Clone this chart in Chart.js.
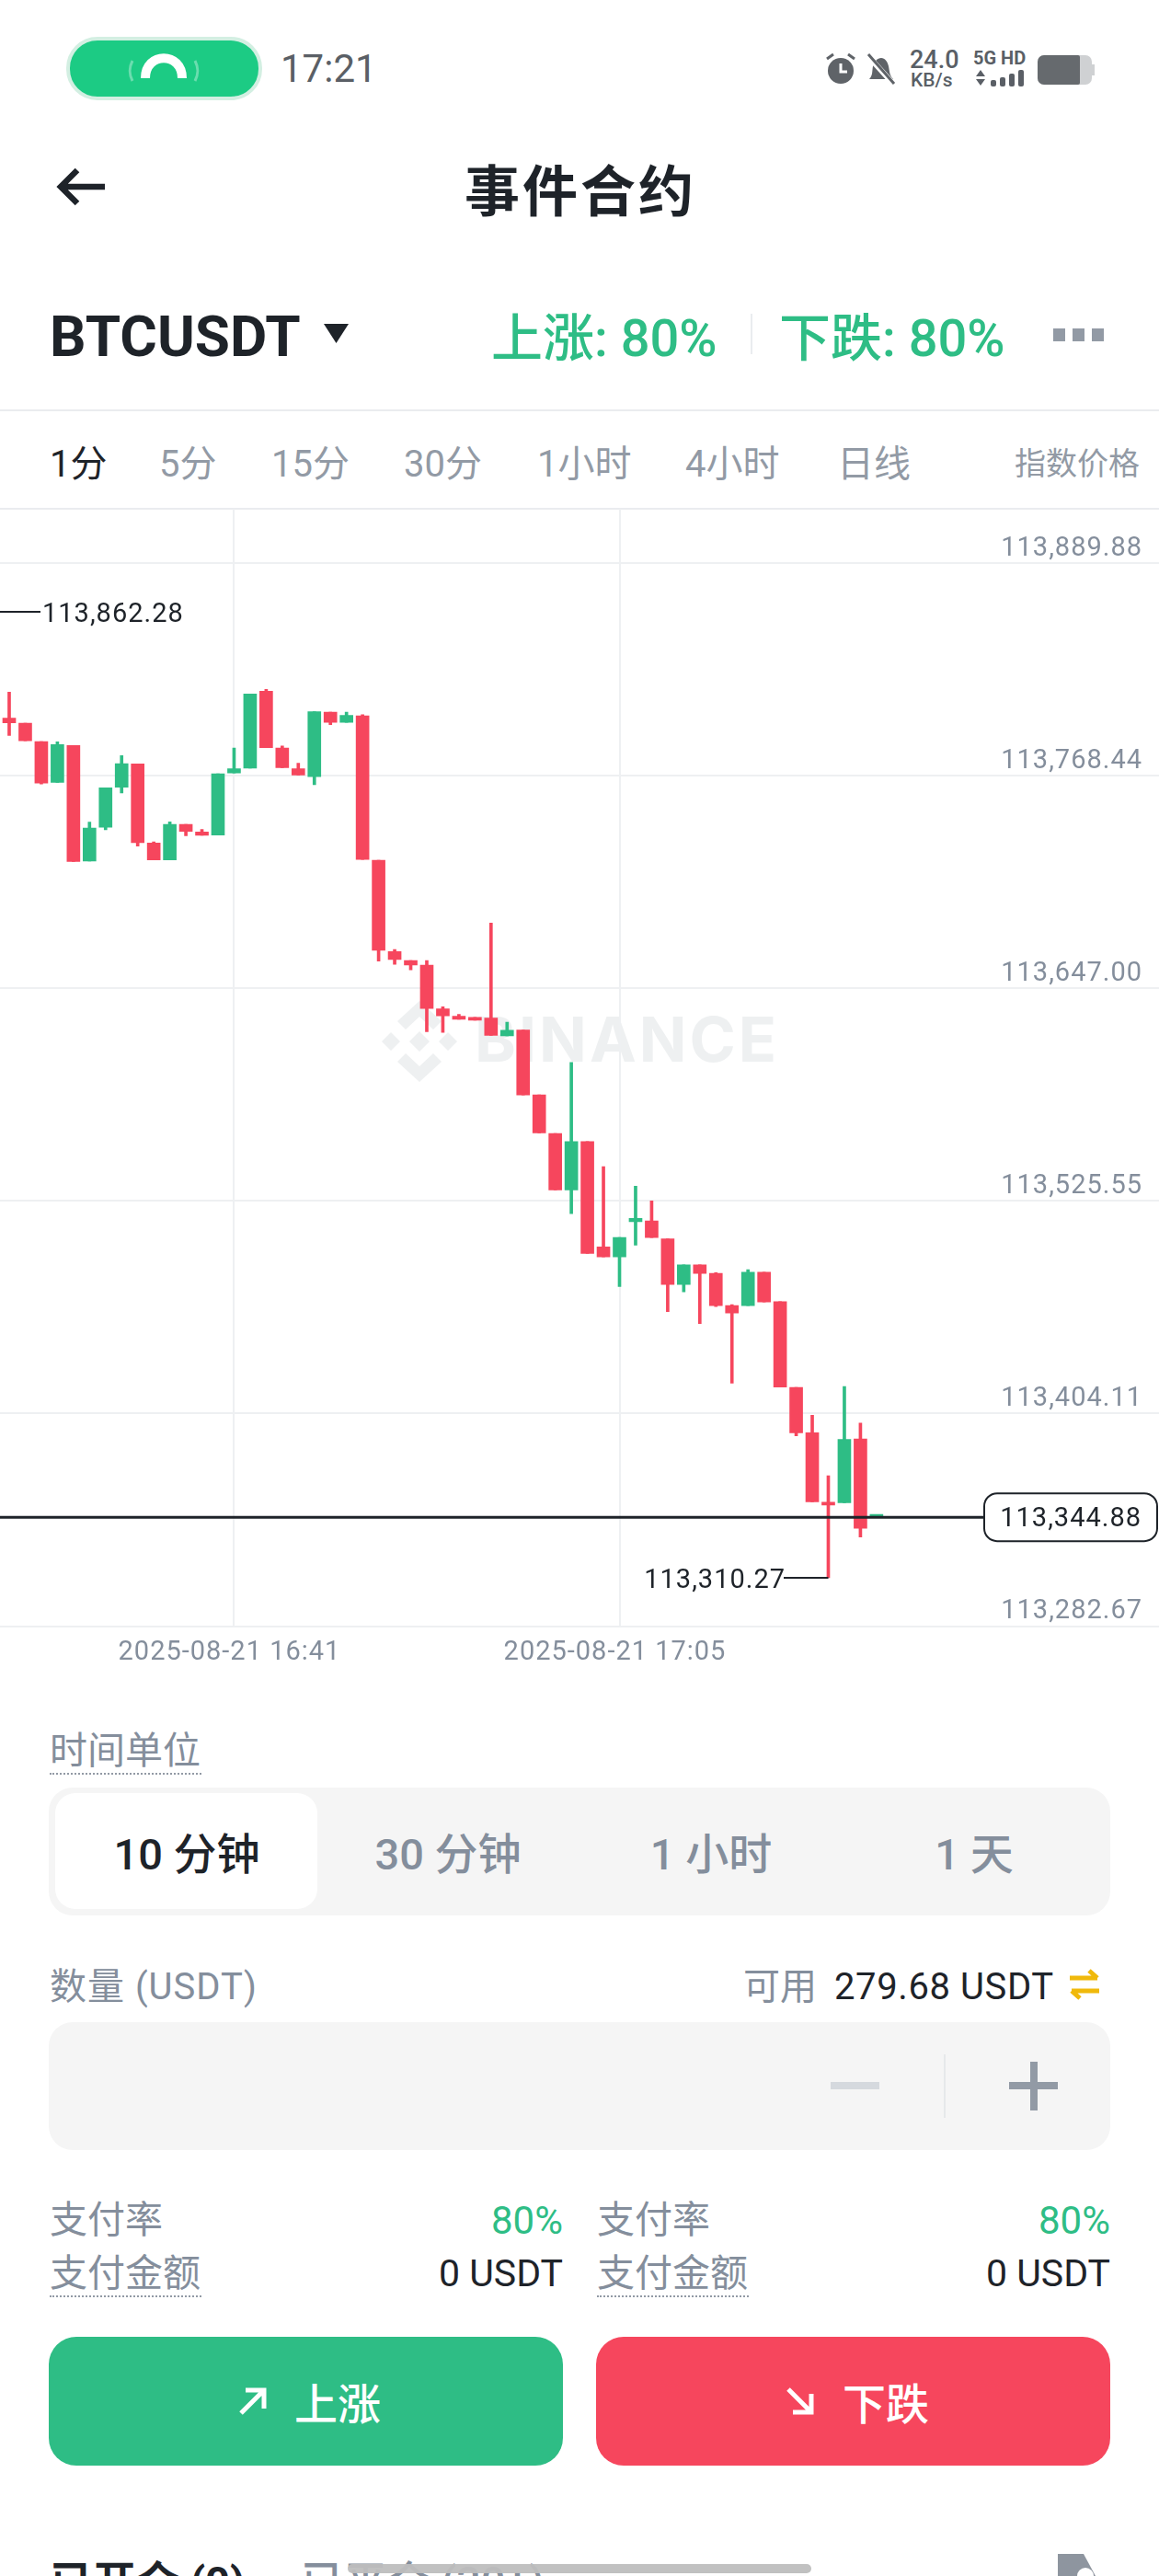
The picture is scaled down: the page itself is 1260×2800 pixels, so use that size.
<!DOCTYPE html>
<html lang="zh">
<head>
<meta charset="utf-8">
<title>事件合约</title>
<script src="https://cdn.jsdelivr.net/npm/chart.js@4/dist/chart.umd.min.js"></script>
<style>
  html, body { margin: 0; padding: 0; background: #fff; }
  #page { position: relative; width: 1260px; height: 2800px; overflow: hidden; background: #fff;
    font-family: Roboto, "Noto Sans CJK SC", sans-serif; color: #1e2329; }
  #page > * { position: absolute; }
  .t { white-space: nowrap; line-height: 1; }
  .gray { color: #848e9c; }
  .tab { top: 485px; font-size: 40px; color: #929aa5; }
  .dots { height: 0; border-bottom: 2px dotted #929aa5; }
  .seg { top: 1992px; font-size: 47px; font-weight: 500; color: #848e9c; transform: translateX(-50%); }
  #chartWrap { left: 0; top: 553px; width: 1260px; height: 1275px; }
  #mark { left: 516px; top: 1088px; font: 700 68px Inter, Roboto, sans-serif; color: #eef0f1; letter-spacing: 3px; }
</style>
</head>
<body>
<div id="page">
  <!-- status bar -->
  <div style="left:72px;top:40px;width:205px;height:61px;background:#1ccb84;border:4px solid #d3efe2;border-radius:34px"></div>
  <svg style="left:130px;top:50px" width="96" height="50" viewBox="0 0 96 50">
    <path d="M28 35 C28 6 68 6 68 35" fill="none" stroke="#fff" stroke-width="10"/>
    <path d="M14 16 C10 24 10 30 14 38M82 16C86 24 86 30 82 38" fill="none" stroke="#fff" stroke-opacity=".35" stroke-width="3"/>
  </svg>
  <div class="t" style="left:305px;top:54px;font-size:42px;color:#5a5f66">17:21</div>
  <svg style="left:896px;top:56px" width="80" height="40" viewBox="0 0 80 40">
    <circle cx="18" cy="21" r="14" fill="#5f6368"/><path d="M18 13v9h7" stroke="#fff" stroke-width="3" fill="none"/>
    <path d="M3 8l7-5M33 8l-7-5" stroke="#5f6368" stroke-width="3"/>
    <path d="M49 30c4-4 3-9 4-14s5-9 9-9 7 4 8 9 1 10 5 14z" fill="#5f6368"/><path d="M46 3l30 33" stroke="#fff" stroke-width="6"/><path d="M48 3l28 32" stroke="#5f6368" stroke-width="3"/>
  </svg>
  <div class="t" style="left:989px;top:52px;font-size:27px;font-weight:500;color:#5a5f66">24.0</div>
  <div class="t" style="left:990px;top:77px;font-size:21px;font-weight:500;color:#5a5f66">KB/s</div>
  <div class="t" style="left:1058px;top:53px;font-size:20px;font-weight:700;color:#5a5f66">5G HD</div>
  <svg style="left:1058px;top:74px" width="60" height="22" viewBox="0 0 60 22" fill="#5a5f66">
    <path d="M3 9l5-7 5 7zM3 12h10l-5 7z"/><rect x="19" y="13" width="6" height="7" rx="2"/><rect x="29" y="10" width="6" height="10" rx="2"/><rect x="39" y="6" width="6" height="14" rx="2"/><rect x="49" y="2" width="6" height="18" rx="2"/>
  </svg>
  <div style="left:1128px;top:60px;width:59px;height:32px;background:#cfd1d3;border-radius:7px"></div>
  <div style="left:1187px;top:70px;width:3px;height:12px;background:#cfd1d3"></div>
  <div style="left:1128px;top:60px;width:46px;height:32px;background:#666a6e;border-radius:7px 2px 2px 7px"></div>

  <!-- header -->
  <svg style="left:60px;top:180px" width="58" height="46" viewBox="0 0 58 46"><path d="M54 23H8M24 5L6 23l18 18" fill="none" stroke="#1e2329" stroke-width="6.5"/></svg>
  <div class="t" style="left:505px;top:180px;font-size:60px;font-weight:700;letter-spacing:3px">事件合约</div>
  <div class="t" style="left:54px;top:335px;font-size:62px;font-weight:700">BTCUSDT</div>
  <svg style="left:352px;top:352px" width="27" height="21" viewBox="0 0 27 21"><path d="M0 0h27L13.5 21z" fill="#1e2329"/></svg>
  <div class="t" style="left:534px;top:340px;font-size:56px;font-weight:500;color:#2ebd85">上涨: 80%</div>
  <div style="left:816px;top:341px;width:2px;height:44px;background:#eaecef"></div>
  <div class="t" style="left:847px;top:340px;font-size:56px;font-weight:500;color:#2ebd85">下跌: 80%</div>
  <div style="left:1145px;top:357px;width:13px;height:14px;background:#929aa5"></div>
  <div style="left:1166px;top:357px;width:13px;height:14px;background:#929aa5"></div>
  <div style="left:1187px;top:357px;width:13px;height:14px;background:#929aa5"></div>
  <div style="left:0;top:445px;width:1260px;height:2px;background:#eaecef"></div>

  <!-- interval tabs -->
  <div class="t tab" style="left:54px;color:#1e2329">1分</div>
  <div class="t tab" style="left:173px">5分</div>
  <div class="t tab" style="left:295px">15分</div>
  <div class="t tab" style="left:439px">30分</div>
  <div class="t tab" style="left:584px">1小时</div>
  <div class="t tab" style="left:745px">4小时</div>
  <div class="t tab" style="left:910px">日线</div>
  <div class="t" style="left:1103px;top:487px;font-size:34px;color:#929aa5">指数价格</div>
  <div style="left:0;top:552px;width:1260px;height:2px;background:#eaecef"></div>

  <!-- watermark sits under the transparent canvas -->
  <svg style="left:412px;top:1082px" width="88" height="100" viewBox="0 0 88 100" fill="#eef0f1">
    <path d="M44 6l24 22-9 9-15-14-15 14-9-9zM13 40l10 10-10 10L3 50zM75 40l10 10-10 10-10-10zM44 39l11 11-11 11-11-11zM44 94L20 72l9-9 15 14 15-14 9 9z"/>
  </svg>
  <div class="t" id="mark">BINANCE</div>
  <div id="chartWrap"><canvas id="kline" width="1260" height="1275"></canvas></div>

  <!-- order form -->
  <div class="t gray" style="left:54px;top:1883px;font-size:41px">时间单位</div>
  <div class="dots" style="left:54px;top:1927px;width:165px"></div>
  <div style="left:53px;top:1943px;width:1154px;height:139px;background:#f5f5f5;border-radius:26px"></div>
  <div style="left:60px;top:1949px;width:285px;height:126px;background:#fff;border-radius:22px"></div>
  <div class="t seg" style="left:203px;color:#1e2329">10 分钟</div>
  <div class="t seg" style="left:487px">30 分钟</div>
  <div class="t seg" style="left:773px">1 小时</div>
  <div class="t seg" style="left:1059px">1 天</div>

  <div class="t gray" style="left:54px;top:2140px;font-size:40px;letter-spacing:1px">数量 (USDT)</div>
  <div class="t gray" style="left:808px;top:2140px;font-size:40px">可用</div>
  <div class="t" style="left:907px;top:2140px;font-size:40px;letter-spacing:.6px">279.68 USDT</div>
  <svg style="left:1160px;top:2140px" width="38" height="34" viewBox="0 0 38 34"><path d="M3 10h30M24 2l9 8M35 24H5M14 32l-9-8" fill="none" stroke="#f0b90b" stroke-width="5"/></svg>
  <div style="left:53px;top:2198px;width:1154px;height:139px;background:#f5f5f5;border-radius:26px"></div>
  <div style="left:903px;top:2263px;width:53px;height:8px;background:#d5d9de"></div>
  <div style="left:1026px;top:2233px;width:2px;height:69px;background:#e6e8ea"></div>
  <div style="left:1097px;top:2263px;width:53px;height:8px;background:#929aa5"></div>
  <div style="left:1120px;top:2241px;width:8px;height:53px;background:#929aa5"></div>

  <div class="t gray" style="left:54px;top:2393px;font-size:41px">支付率</div>
  <div class="t" style="right:648px;top:2393px;font-size:42px;color:#2ebd85">80%</div>
  <div class="t gray" style="left:649px;top:2393px;font-size:41px">支付率</div>
  <div class="t" style="right:53px;top:2393px;font-size:42px;color:#2ebd85">80%</div>
  <div class="t gray" style="left:54px;top:2451px;font-size:41px">支付金额</div>
  <div class="dots" style="left:54px;top:2495px;width:165px"></div>
  <div class="t" style="right:648px;top:2451px;font-size:41px">0 USDT</div>
  <div class="t gray" style="left:649px;top:2451px;font-size:41px">支付金额</div>
  <div class="dots" style="left:649px;top:2495px;width:165px"></div>
  <div class="t" style="right:53px;top:2451px;font-size:41px">0 USDT</div>

  <div style="left:53px;top:2540px;width:559px;height:140px;background:#2ebd85;border-radius:30px"></div>
  <div style="left:648px;top:2540px;width:559px;height:140px;background:#f6465d;border-radius:30px"></div>
  <svg style="left:258px;top:2593px" width="34" height="34" viewBox="0 0 34 34"><path d="M4 30L28 6M9 5h20v20" fill="none" stroke="#fff" stroke-width="5"/></svg>
  <div class="t" style="left:320px;top:2590px;font-size:47px;font-weight:500;color:#fff">上涨</div>
  <svg style="left:853px;top:2593px" width="34" height="34" viewBox="0 0 34 34"><path d="M4 4l24 24M9 29h20V9" fill="none" stroke="#fff" stroke-width="5"/></svg>
  <div class="t" style="left:916px;top:2590px;font-size:47px;font-weight:500;color:#fff">下跌</div>

  <!-- cut off by the bottom edge -->
  <div class="t" style="left:54px;top:2783px;font-size:47px;font-weight:700">已开仓 (0)</div>
  <div class="t gray" style="left:327px;top:2783px;font-size:47px;font-weight:500">已平仓 (30+)</div>
  <div style="left:378px;top:2787px;width:504px;height:10px;background:rgba(190,190,190,.95);border-radius:5px"></div>
  <svg style="left:1150px;top:2776px" width="42" height="24" viewBox="0 0 42 24"><path d="M0 0h28l13 24H0z" fill="#8e959f"/><circle cx="30" cy="24" r="9" fill="#fff"/></svg>
</div>

<script>
const categories = ["16:27","16:28","16:29","16:30","16:31","16:32","16:33","16:34","16:35","16:36","16:37",
  "16:38","16:39","16:40","16:41","16:42","16:43","16:44","16:45","16:46","16:47","16:48","16:49","16:50",
  "16:51","16:52","16:53","16:54","16:55","16:56","16:57","16:58","16:59","17:00","17:01","17:02","17:03",
  "17:04","17:05","17:06","17:07","17:08","17:09","17:10","17:11","17:12","17:13","17:14","17:15","17:16",
  "17:17","17:18","17:19","17:20","17:21"];
const opens = [113801.5,113798.6,113788.1,113764.8,113785.8,113719.8,113739.1,113762.0,113775.3,113730.1,113720.5,
  113740.8,113736.4,113734.7,113770.1,113772.9,113816.8,113784.4,113772.5,113768.1,113804.9,113799.1,113802.8,113720.2,
  113668.1,113663.0,113660.3,113635.4,113631.2,113630.5,113630.1,113619.9,113623.3,113586.2,113564.1,113531.9,113559.5,
  113499.4,113493.7,113513.8,113514.2,113504.0,113477.9,113489.1,113484.2,113465.8,113465.8,113484.9,113468.1,113419.0,
  113393.1,113353.5,113353.2,113389.6,113344.88];
const closes = [113798.8,113788.5,113764.3,113786.4,113719.6,113738.7,113761.7,113775.5,113730.3,113720.5,113740.8,
  113736.8,113734.5,113769.6,113772.5,113815.3,113784.6,113773.1,113768.9,113805.1,113799.0,113803.0,113720.7,113668.8,
  113663.6,113660.4,113635.6,113631.3,113629.4,113628.9,113620.2,113623.1,113586.2,113564.5,113531.9,113559.5,113495.6,
  113493.7,113504.7,113515.6,113504.7,113477.9,113489.1,113484.2,113465.8,113461.6,113484.9,113467.9,113419.2,113393.1,
  113353.7,113351.8,113389.3,113338.6,113346.0];
const highs = [113816.3,113798.6,113788.1,113787.9,113785.8,113742.1,113761.7,113780.1,113775.3,113730.7,113742.2,
  113740.8,113737.9,113769.6,113784.4,113815.3,113817.9,113785.5,113775.7,113805.1,113804.9,113804.9,113803.5,113720.2,
  113669.2,113663.0,113662.9,113636.6,113632.2,113630.5,113684.4,113627.7,113623.3,113586.2,113564.1,113604.7,113559.5,
  113545.2,113504.7,113534.0,113525.6,113504.0,113489.1,113489.1,113484.6,113466.3,113486.3,113484.9,113468.1,113419.0,
  113403.1,113368.6,113419.6,113398.7,113346.4];
const lows = [113791.5,113788.5,113763.8,113764.8,113719.6,113719.8,113737.7,113758.7,113728.4,113720.5,113720.5,
  113734.3,113734.5,113734.7,113770.1,113772.9,113784.6,113773.1,113768.9,113763.4,113797.8,113799.1,113720.7,113662.7,
  113660.8,113657.6,113622.3,113621.9,113629.4,113628.9,113620.2,113619.9,113586.2,113564.5,113531.9,113518.4,113495.6,
  113493.7,113476.7,113500.3,113504.7,113462.3,113473.7,113455.5,113465.3,113421.5,113465.8,113467.9,113419.2,113391.4,
  113353.7,113310.27,113353.2,113333.6,113344.88];
const priceTicks = [113889.88,113768.44,113647.00,113525.55,113404.11,113282.67];
const timeTickIndex = [14,38];
const timeTickDates = ["2025-08-21","2025-08-21"];
const lastPrice = 113344.88;
const highMark = 113862.28;
const lowMark = 113310.27;
const lowMarkIndex = 51;

const UP = "#2ebd85", DOWN = "#f6465d", GRID = "#eef0f2";
const fmt = v => v.toLocaleString("en-US", { minimumFractionDigits: 2, maximumFractionDigits: 2 });
const colors = opens.map((o, i) => closes[i] >= o ? UP : DOWN);

// price markers and the last price box, placed through the scales
const markers = {
  id: "markers",
  beforeDraw(chart) {
    chart.ctx.letterSpacing = "1px";
  },
  afterDatasetsDraw(chart) {
    const { ctx, scales: { x, y } } = chart;
    ctx.save();
    ctx.font = "29px Roboto, sans-serif";
    ctx.textBaseline = "middle";

    // last price line and box
    const py = y.getPixelForValue(lastPrice);
    ctx.strokeStyle = "#1e2329";
    ctx.lineWidth = 3;
    ctx.beginPath(); ctx.moveTo(0, py); ctx.lineTo(1070, py); ctx.stroke();
    ctx.fillStyle = "#fff";
    ctx.lineWidth = 2;
    ctx.beginPath(); ctx.roundRect(1070, py - 26, 188, 52, 14); ctx.fill(); ctx.stroke();
    ctx.fillStyle = "#1e2329";
    ctx.textAlign = "right";
    ctx.fillText(fmt(lastPrice), 1241, py + 3);

    // session high, left
    const hy = y.getPixelForValue(highMark);
    ctx.lineWidth = 2;
    ctx.beginPath(); ctx.moveTo(0, hy); ctx.lineTo(44, hy); ctx.stroke();
    ctx.textAlign = "left";
    ctx.fillText(fmt(highMark), 46, hy + 4);

    // session low, ends on the wick
    const ly = y.getPixelForValue(lowMark), lx = x.getPixelForValue(lowMarkIndex);
    ctx.beginPath(); ctx.moveTo(lx, ly); ctx.lineTo(852, ly); ctx.stroke();
    ctx.textAlign = "right";
    ctx.fillText(fmt(lowMark), 854, ly + 4);
    ctx.restore();
  }
};

new Chart(document.getElementById("kline"), {
  type: "bar",
  data: {
    labels: categories,
    datasets: [
      {
        label: "wick",
        data: categories.map((c, i) => ({ x: i, y: [lows[i], highs[i]] })),
        backgroundColor: colors,
        barThickness: 3,
        grouped: false,
        order: 2
      },
      {
        label: "body",
        data: categories.map((c, i) => ({ x: i, y: [opens[i], closes[i]] })),
        backgroundColor: colors,
        barThickness: 14,
        minBarLength: 3,
        grouped: false,
        order: 1
      }
    ]
  },
  plugins: [markers],
  options: {
    responsive: false,
    animation: false,
    devicePixelRatio: 1,
    layout: { padding: 0 },
    plugins: { legend: { display: false }, tooltip: { enabled: false } },
    scales: {
      x: {
        type: "linear",
        offset: false,
        min: -0.573,
        max: 71.59,
        afterBuildTicks: s => { s.ticks = timeTickIndex.map(v => ({ value: v })); },
        afterFit: s => { s.height = 60.5; },
        grid: { color: GRID, lineWidth: 2, drawTicks: false, offset: false },
        border: { display: false },
        ticks: {
          autoSkip: false, maxRotation: 0, padding: 12, labelOffset: -5,
          font: { family: "Roboto, sans-serif", size: 29 }, color: "#848e9c",
          callback: v => timeTickDates[timeTickIndex.indexOf(v)] + " " + categories[v]
        }
      },
      y: {
        position: "right",
        min: 113282.67,
        max: 113921.1,
        afterBuildTicks: s => { s.ticks = priceTicks.map(v => ({ value: v })); },
        afterFit: s => { s.width = 0; },
        grid: { color: GRID, lineWidth: 2, drawTicks: false },
        border: { display: false },
        ticks: {
          mirror: true, padding: -18, labelOffset: -16,
          font: { family: "Roboto, sans-serif", size: 29 }, color: "#848e9c",
          callback: v => fmt(v)
        }
      }
    }
  }
});
</script>
</body>
</html>
